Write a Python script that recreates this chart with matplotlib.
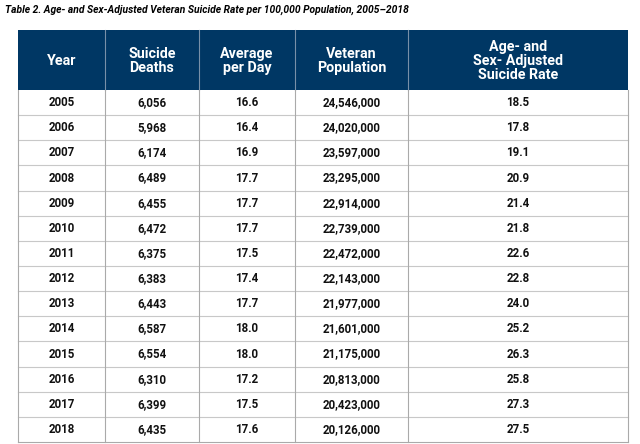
import matplotlib.pyplot as plt
from matplotlib.patches import Rectangle

# Table data
years = [2005, 2006, 2007, 2008, 2009, 2010, 2011, 2012, 2013, 2014, 2015, 2016, 2017, 2018]
suicide_deaths = [6056, 5968, 6174, 6489, 6455, 6472, 6375, 6383, 6443, 6587, 6554, 6310, 6399, 6435]
avg_per_day = [16.6, 16.4, 16.9, 17.7, 17.7, 17.7, 17.5, 17.4, 17.7, 18.0, 18.0, 17.2, 17.5, 17.6]
veteran_pop = [24546000, 24020000, 23597000, 23295000, 22914000, 22739000, 22472000,
               22143000, 21977000, 21601000, 21175000, 20813000, 20423000, 20126000]
adj_rate = [18.5, 17.8, 19.1, 20.9, 21.4, 21.8, 22.6, 22.8, 24.0, 25.2, 26.3, 25.8, 27.3, 27.5]
headers = ["Year", "Suicide\nDeaths", "Average\nper Day", "Veteran\nPopulation",
           "Age- and\nSex- Adjusted\nSuicide Rate"]
title = "Table 2. Age- and Sex-Adjusted Veteran Suicide Rate per 100,000 Population, 2005\u20132018"

FONT = ["Roboto", "DejaVu Sans"]
NAVY = "#003764"
GRID = "#aaaaaa"

col_edges = [18, 105, 199, 295, 408, 628]
head_top, head_bot, tab_bot = 30, 90, 442
row_h = (tab_bot - head_bot) / len(years)

rows = []
for i in range(len(years)):
    rows.append([str(years[i]), f"{suicide_deaths[i]:,}", f"{avg_per_day[i]:.1f}",
                 f"{veteran_pop[i]:,}", f"{adj_rate[i]:.1f}"])

fig = plt.figure(figsize=(6.4, 4.44), dpi=100)
ax = fig.add_axes([0, 0, 1, 1])
ax.set_xlim(0, 640)
ax.set_ylim(444, 0)
ax.axis("off")

ax.text(5, 10, title, family=FONT, fontsize=7.4, fontweight="bold", fontstyle="italic",
        va="center", ha="left", color="black")

# header
ax.add_patch(Rectangle((col_edges[0], head_top), col_edges[-1] - col_edges[0], head_bot - head_top,
                       facecolor=NAVY, edgecolor="none"))
for j, h in enumerate(headers):
    cx = (col_edges[j] + col_edges[j + 1]) / 2
    ax.text(cx, (head_top + head_bot) / 2 + 1, h, family=FONT, fontsize=10.3, fontweight="bold",
            color="white", ha="center", va="center", linespacing=1.0)
for x in col_edges[1:-1]:
    ax.plot([x, x], [head_top, head_bot], color="#7890a8", lw=0.8)

# body
for i, r in enumerate(rows):
    cy = head_bot + (i + 0.5) * row_h
    for j, v in enumerate(r):
        cx = (col_edges[j] + col_edges[j + 1]) / 2
        ax.text(cx, cy, v, family=FONT, fontsize=8.3, fontweight="bold", color="#111111",
                ha="center", va="center")
    if i > 0:
        y = head_bot + i * row_h
        ax.plot([col_edges[0], col_edges[-1]], [y, y], color="#c8c8c8", lw=0.8)

for x in col_edges:
    ax.plot([x, x], [head_bot, tab_bot], color=GRID, lw=0.8)
ax.plot([col_edges[0], col_edges[-1]], [tab_bot, tab_bot], color=GRID, lw=0.8)

fig.savefig("out.png", dpi=100)
